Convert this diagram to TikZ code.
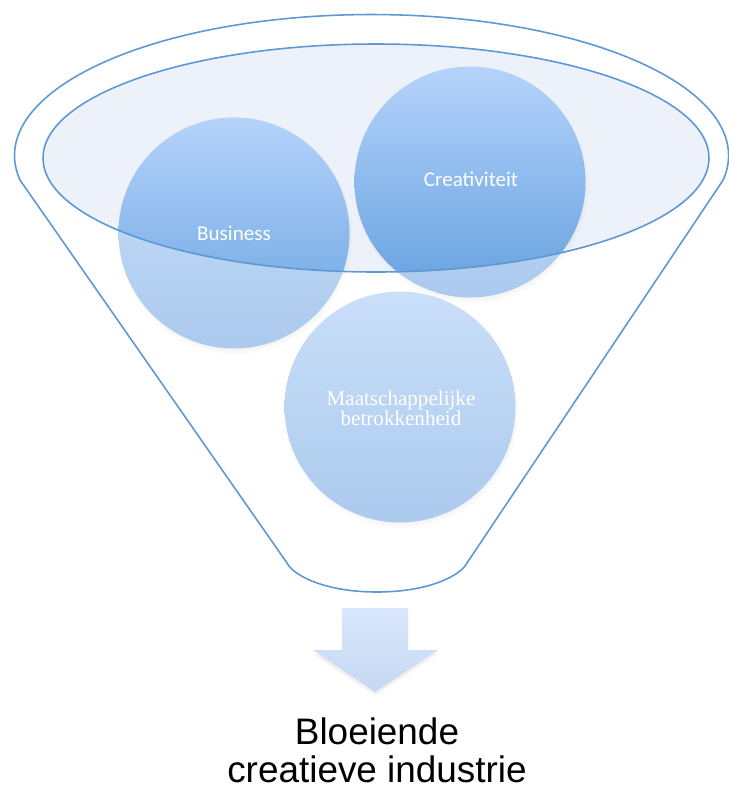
\documentclass[tikz,border=0pt]{standalone}
\usepackage{fontspec}
\setmainfont{Liberation Sans}
\newfontfamily\ballfont{Carlito}
\newfontfamily\ballserif{Liberation Serif}
\usepackage{tikz}
\usetikzlibrary{shadows}
\definecolor{rim}{HTML}{5D98D4}
\definecolor{rimfill}{HTML}{EDF1F9}
\definecolor{paletop}{HTML}{CADFF9}
\definecolor{palebot}{HTML}{ABCAEE}
\definecolor{balltop}{HTML}{B5D3FB}
\definecolor{ballbot}{HTML}{65A1DF}
\definecolor{arrtop}{HTML}{D9E7FC}
\definecolor{arrbot}{HTML}{C5D8F2}
\tikzset{
  rimline/.style={draw=rim, line width=0.9pt},
  ball/.style={circle, minimum size=4.62cm, inner sep=0pt, top color=paletop, bottom color=palebot,
    circular drop shadow={shadow xshift=0.5pt, shadow yshift=-2pt, shadow scale=1.02, opacity=0.25}},
  ballhi/.style={top color=balltop, bottom color=ballbot},
  balltext/.style={text=white, font=\ballfont\fontsize{12}{14}\selectfont},
  serftext/.style={text=white, align=center, font=\ballserif\fontsize{12}{11.3}\selectfont},
  downarrow/.style={top color=arrtop, bottom color=arrbot,
    drop shadow={shadow xshift=0pt, shadow yshift=-2pt, opacity=0.12}},
  bigtext/.style={align=center, font=\fontsize{21}{21.5}\selectfont},
}

\begin{document}
\begin{tikzpicture}[x=0.02cm, y=-0.02cm]
  \useasboundingbox (0,0) rectangle (729,789);

  % funnel rim
  \path[fill=rimfill] (376,158) ellipse [x radius=333, y radius=114];

  \node[ball] (bus) at (234,233) {};
  \node[ball] (cre) at (470,182) {};
  \node[ball] (maat) at (400,407) {};

  \begin{scope}
    \clip (376,158) ellipse [x radius=333, y radius=114];
    \path[ballhi] (bus) circle [radius=115.5];
    \path[ballhi] (cre) circle [radius=115.5];
  \end{scope}

  \draw[rimline] (376,158) ellipse [x radius=333, y radius=114];

  \node[balltext] (buslab) at (bus) {Business};
  \node[balltext] (crelab) at (471,179) {Creativiteit};
  \node[serftext] (maatlab) at (401,408) {Maatschappelijke\\betrokkenheid};

  % funnel body
  \draw[rimline] (20,180) arc [start angle=170, end angle=370, x radius=357, y radius=141]
    -- (467,563) .. controls (461,575) and (430,592) .. (377,592)
    .. controls (324,592) and (293,575) .. (287,563) -- cycle;

  \path[downarrow] (342,608) -- (408,608) -- (408,650) -- (438,650) -- (375,692)
    -- (313,650) -- (342,650) -- cycle;

  \node[bigtext] (result) at (377,750) {Bloeiende\\creatieve industrie};
\end{tikzpicture}
\end{document}
